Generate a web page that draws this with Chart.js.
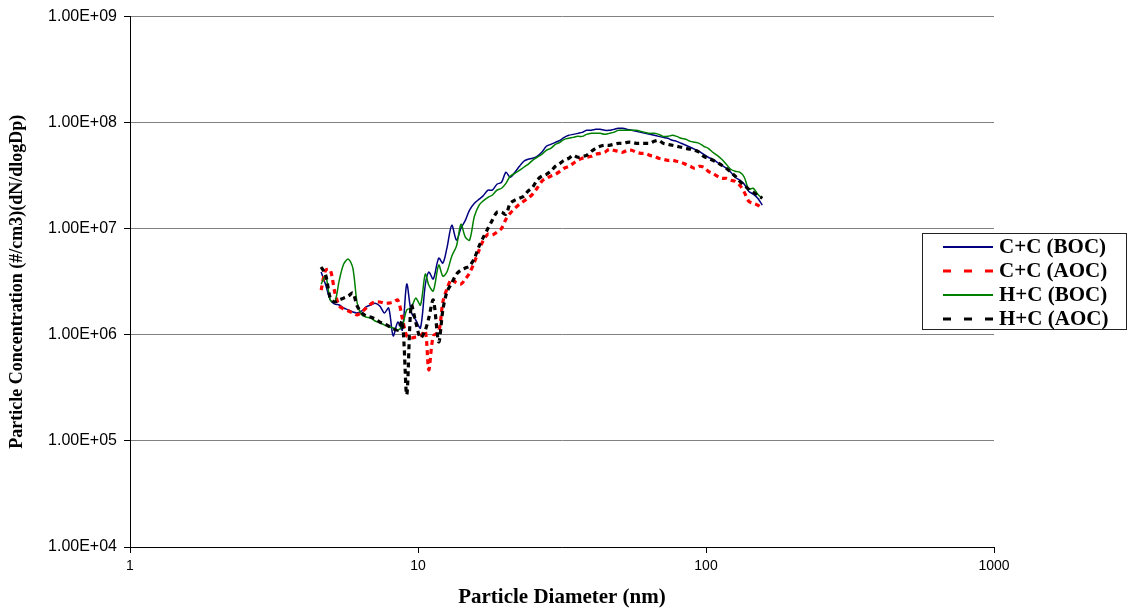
<!DOCTYPE html>
<html>
<head>
<meta charset="utf-8">
<script src="https://cdn.jsdelivr.net/npm/chart.js@4.4.1/dist/chart.umd.min.js"></script>
<style>
  html, body { margin: 0; padding: 0; background: #ffffff; }
  #wrap { width: 1138px; height: 612px; position: relative; }
</style>
</head>
<body>
<div id="wrap"><canvas id="chart" width="1138" height="612"></canvas></div>
<script>
// SMPS channel midpoint diameters (nm)
const diameters = [
  4.61, 4.78, 4.96, 5.14, 5.33, 5.52, 5.73, 5.94, 6.15, 6.38,
  6.61, 6.85, 7.10, 7.37, 7.64, 7.91, 8.20, 8.51, 8.82, 9.14,
  9.47, 9.82, 10.2, 10.6, 10.9, 11.3, 11.8, 12.2, 12.6, 13.1,
  13.6, 14.1, 14.6, 15.1, 15.7, 16.3, 16.8, 17.5, 18.1, 18.8,
  19.5, 20.2, 20.9, 21.7, 22.5, 23.3, 24.1, 25.0, 25.9, 26.9,
  27.9, 28.9, 30.0, 31.1, 32.2, 33.4, 34.6, 35.9, 37.2, 38.5,
  40.0, 41.4, 42.9, 44.5, 46.1, 47.8, 49.6, 51.4, 53.3, 55.2,
  57.3, 59.4, 61.5, 63.8, 66.1, 68.5, 71.0, 73.7, 76.4, 79.1,
  82.0, 85.1, 88.2, 91.4, 94.7, 98.2, 101.8, 105.5, 109.4, 113.4,
  117.6, 121.9, 126.3, 131.0, 135.8, 140.7, 145.9, 151.2, 156.8
];

// dN/dlogDp (#/cm3) for each case
const ccBoc = [
  3.91e6, 2.95e6, 2.13e6, 1.95e6, 1.91e6, 1.79e6, 1.72e6, 1.64e6, 1.61e6, 1.68e6,
  1.83e6, 1.91e6, 1.99e6, 1.87e6, 1.61e6, 1.79e6, 9.76e5, 1.32e6, 1.11e6, 3.01e6,
  1.64e6, 1.38e6, 1.16e6, 2.95e6, 3.91e6, 3.36e6, 5.29e6, 4.75e6, 6.57e6, 1.08e7,
  7.81e6, 1.01e7, 1.20e7, 1.50e7, 1.74e7, 1.90e7, 2.03e7, 2.31e7, 2.31e7, 2.63e7,
  2.74e7, 3.41e7, 3.06e7, 3.41e7, 3.88e7, 4.33e7, 4.52e7, 4.62e7, 4.82e7, 5.26e7,
  5.99e7, 6.25e7, 6.53e7, 6.82e7, 7.27e7, 7.60e7, 7.76e7, 7.93e7, 8.10e7, 8.47e7,
  8.47e7, 8.65e7, 8.65e7, 8.47e7, 8.47e7, 8.65e7, 8.84e7, 8.84e7, 8.65e7, 8.47e7,
  8.28e7, 8.10e7, 7.93e7, 7.76e7, 7.60e7, 7.43e7, 7.27e7, 7.12e7, 6.82e7, 6.67e7,
  6.39e7, 6.12e7, 5.86e7, 5.61e7, 5.37e7, 5.03e7, 4.72e7, 4.52e7, 4.23e7, 3.97e7,
  3.72e7, 3.41e7, 3.06e7, 2.87e7, 2.63e7, 2.26e7, 2.12e7, 1.94e7, 1.67e7
];
const ccAoc = [
  2.64e6, 4.08e6, 4.08e6, 2.53e6, 1.87e6, 1.75e6, 1.68e6, 1.61e6, 1.54e6, 1.64e6,
  1.79e6, 1.95e6, 2.04e6, 2.04e6, 1.99e6, 1.99e6, 2.04e6, 2.13e6, 1.44e6, 9.76e5,
  9.35e5, 9.55e5, 9.76e5, 1.09e6, 4.68e5, 9.76e5, 1.07e6, 2.04e6, 2.70e6, 3.36e6,
  3.08e6, 3.01e6, 3.36e6, 3.82e6, 4.85e6, 6.29e6, 7.64e6, 8.90e6, 8.71e6, 9.29e6,
  1.01e7, 1.23e7, 1.40e7, 1.56e7, 1.70e7, 1.82e7, 1.94e7, 2.12e7, 2.41e7, 2.80e7,
  2.99e7, 3.13e7, 3.26e7, 3.48e7, 3.72e7, 3.88e7, 4.14e7, 4.42e7, 4.62e7, 4.72e7,
  4.82e7, 5.03e7, 5.14e7, 5.26e7, 5.61e7, 5.49e7, 5.37e7, 5.26e7, 5.49e7, 5.49e7,
  5.26e7, 5.14e7, 5.14e7, 4.92e7, 4.82e7, 4.62e7, 4.52e7, 4.42e7, 4.42e7, 4.33e7,
  4.23e7, 4.05e7, 3.88e7, 3.72e7, 3.88e7, 3.80e7, 3.48e7, 3.33e7, 3.13e7, 2.99e7,
  2.99e7, 2.87e7, 2.80e7, 2.57e7, 2.21e7, 1.82e7, 1.74e7, 1.67e7, 1.56e7
];
const hcBoc = [
  3.01e6, 3.58e6, 2.13e6, 2.04e6, 3.28e6, 4.65e6, 5.18e6, 4.26e6, 1.99e6, 1.54e6,
  1.47e6, 1.44e6, 1.35e6, 1.30e6, 1.24e6, 1.19e6, 1.16e6, 1.11e6, 1.21e6, 1.72e6,
  1.79e6, 2.22e6, 1.91e6, 3.74e6, 2.95e6, 2.59e6, 4.55e6, 3.58e6, 3.91e6, 5.52e6,
  6.86e6, 1.10e7, 8.34e6, 7.81e6, 1.31e7, 1.67e7, 1.82e7, 1.98e7, 2.07e7, 2.31e7,
  2.41e7, 2.68e7, 3.13e7, 3.33e7, 3.56e7, 3.80e7, 4.05e7, 4.42e7, 4.72e7, 5.03e7,
  5.49e7, 5.73e7, 6.25e7, 6.53e7, 6.97e7, 7.12e7, 7.27e7, 7.43e7, 7.43e7, 7.76e7,
  7.93e7, 7.93e7, 7.93e7, 7.76e7, 7.93e7, 8.10e7, 8.47e7, 8.47e7, 8.47e7, 8.47e7,
  8.47e7, 8.28e7, 8.10e7, 7.93e7, 7.93e7, 7.76e7, 7.43e7, 7.43e7, 7.60e7, 7.43e7,
  7.12e7, 6.97e7, 6.67e7, 6.53e7, 6.39e7, 5.99e7, 5.73e7, 5.26e7, 4.92e7, 4.52e7,
  4.05e7, 3.64e7, 3.48e7, 3.41e7, 3.06e7, 2.36e7, 2.41e7, 2.12e7, 1.94e7
];
const hcAoc = [
  4.36e6, 3.66e6, 2.22e6, 2.04e6, 2.13e6, 2.22e6, 2.32e6, 2.48e6, 1.87e6, 1.61e6,
  1.51e6, 1.47e6, 1.41e6, 1.32e6, 1.27e6, 1.21e6, 1.14e6, 1.11e6, 1.35e6, 2.72e5,
  1.91e6, 1.32e6, 9.35e5, 1.11e6, 1.44e6, 2.13e6, 8.57e5, 1.72e6, 2.53e6, 3.08e6,
  3.74e6, 4.08e6, 4.26e6, 4.45e6, 5.29e6, 6.86e6, 8.16e6, 1.01e7, 1.20e7, 1.43e7,
  1.43e7, 1.37e7, 1.74e7, 1.86e7, 1.94e7, 2.03e7, 2.26e7, 2.46e7, 2.87e7, 3.13e7,
  3.26e7, 3.48e7, 3.88e7, 4.14e7, 4.42e7, 4.62e7, 4.92e7, 4.72e7, 4.82e7, 4.92e7,
  5.37e7, 5.73e7, 5.99e7, 6.12e7, 6.12e7, 6.25e7, 6.39e7, 6.39e7, 6.53e7, 6.53e7,
  6.39e7, 6.39e7, 6.39e7, 6.39e7, 6.67e7, 6.82e7, 6.39e7, 6.25e7, 6.12e7, 5.99e7,
  5.86e7, 5.73e7, 5.61e7, 5.49e7, 5.26e7, 4.82e7, 4.62e7, 4.42e7, 4.23e7, 3.97e7,
  3.72e7, 3.41e7, 3.13e7, 2.80e7, 2.57e7, 2.36e7, 2.21e7, 2.07e7, 1.94e7
];

const seriesNames = ['C+C (BOC)', 'C+C (AOC)', 'H+C (BOC)', 'H+C (AOC)'];
const xTickValues = [1, 10, 100, 1000];
const yTickValues = [1e4, 1e5, 1e6, 1e7, 1e8, 1e9];

// "1.00E+09" style labels
function sciLabel(v) {
  const e = Math.round(Math.log10(v));
  const m = v / Math.pow(10, e);
  return m.toFixed(2) + 'E' + (e < 0 ? '-' : '+') + String(Math.abs(e)).padStart(2, '0');
}

function toPoints(values) {
  return diameters.map((d, i) => ({ x: d, y: values[i] }));
}

const styles = [
  { color: '#000080', width: 1.5, dash: [] },
  { color: '#ff0000', width: 3.2, dash: [5, 4] },
  { color: '#008000', width: 1.5, dash: [] },
  { color: '#000000', width: 3.2, dash: [5, 4] }
];
const seriesValues = [ccBoc, ccAoc, hcBoc, hcAoc];

const datasets = seriesValues.map((vals, i) => ({
  label: seriesNames[i],
  data: toPoints(vals),
  borderColor: styles[i].color,
  backgroundColor: styles[i].color,
  borderWidth: styles[i].width,
  borderDash: styles[i].dash,
  pointRadius: 0,
  tension: 0.3,
  fill: false,
  order: 3 - i
}));

// Boxed legend at the right edge of the plot
const boxLegend = {
  id: 'boxLegend',
  afterDraw(chart) {
    const ctx = chart.ctx;
    const bx = 922.5, by = 233.5, bw = 204, bh = 96;
    ctx.save();
    ctx.fillStyle = '#ffffff';
    ctx.fillRect(bx, by, bw, bh);
    ctx.strokeStyle = '#222222';
    ctx.lineWidth = 1;
    ctx.strokeRect(bx, by, bw, bh);
    ctx.font = 'bold 21px "Liberation Serif", "Times New Roman", serif';
    ctx.textBaseline = 'middle';
    ctx.textAlign = 'left';
    chart.data.datasets.forEach((ds, i) => {
      const y = 247 + i * 24;
      ctx.beginPath();
      ctx.strokeStyle = ds.borderColor;
      ctx.lineWidth = ds.borderDash.length ? 3 : 2;
      ctx.setLineDash(ds.borderDash.length ? [8, 13] : []);
      ctx.moveTo(943, y);
      ctx.lineTo(993, y);
      ctx.stroke();
      ctx.setLineDash([]);
      ctx.fillStyle = '#000000';
      ctx.fillText(ds.label, 999, y + 1);
    });
    ctx.restore();
  }
};

new Chart(document.getElementById('chart'), {
  type: 'line',
  data: { datasets },
  options: {
    responsive: false,
    animation: false,
    events: [],
    layout: { padding: { top: 16, right: 144, bottom: 0, left: 0 } },
    plugins: { legend: { display: false }, tooltip: { enabled: false } },
    scales: {
      x: {
        type: 'logarithmic',
        min: 1,
        max: 1000,
        afterBuildTicks: s => { s.ticks = xTickValues.map(v => ({ value: v })); },
        afterFit: s => { s.height = 65; },
        ticks: {
          callback: v => String(v),
          color: '#000000',
          font: { family: '"Liberation Sans", Arial, sans-serif', size: 14 },
          maxRotation: 0,
          autoSkip: false,
          padding: 5
        },
        grid: { drawOnChartArea: false, drawTicks: true, tickLength: 6, color: '#000000', tickColor: '#000000' },
        border: { display: true, color: '#000000', width: 1 },
        title: {
          display: true,
          text: 'Particle Diameter (nm)',
          color: '#000000',
          font: { family: '"Liberation Serif", "Times New Roman", serif', size: 21, weight: 'bold' },
          padding: { top: 0, bottom: 2 }
        }
      },
      y: {
        type: 'logarithmic',
        min: 1e4,
        max: 1e9,
        afterBuildTicks: s => { s.ticks = yTickValues.map(v => ({ value: v })); },
        afterFit: s => { s.width = 130; },
        ticks: {
          callback: v => sciLabel(v),
          color: '#000000',
          font: { family: '"Liberation Sans", Arial, sans-serif', size: 16 },
          autoSkip: false,
          padding: 7
        },
        grid: { drawOnChartArea: true, drawTicks: true, tickLength: 6, color: '#808080', tickColor: '#000000', lineWidth: 1 },
        border: { display: true, color: '#000000', width: 1 },
        title: {
          display: true,
          text: 'Particle Concentration (#/cm3)(dN/dlogDp)',
          color: '#000000',
          font: { family: '"Liberation Serif", "Times New Roman", serif', size: 18, weight: 'bold' },
          padding: { top: 7, bottom: 0 }
        }
      }
    }
  },
  plugins: [boxLegend]
});
</script>
</body>
</html>
